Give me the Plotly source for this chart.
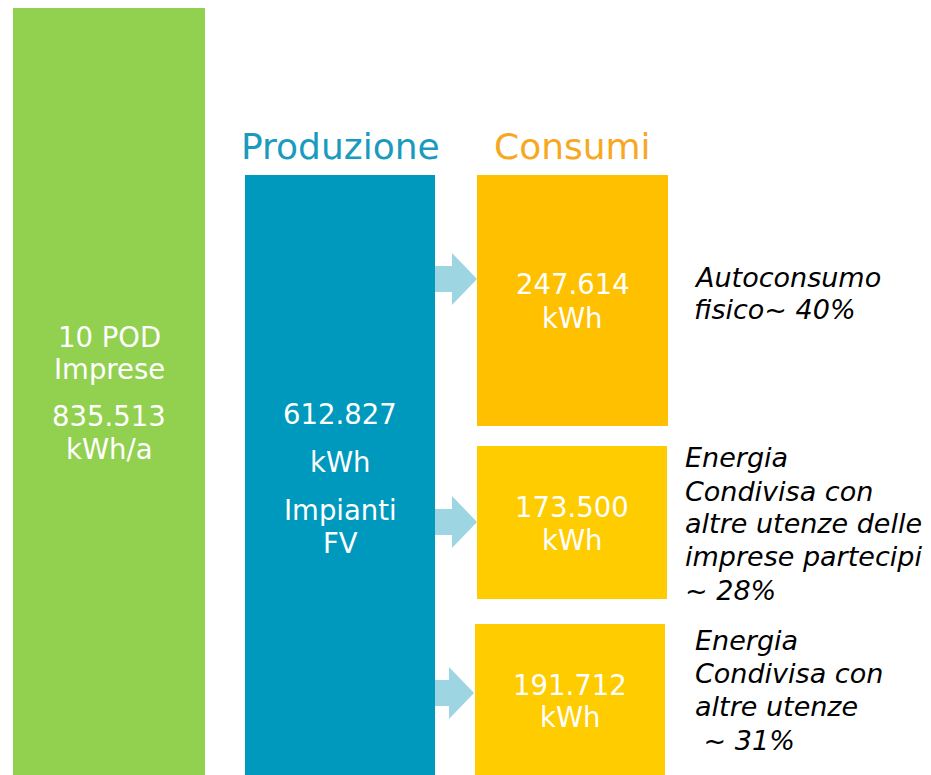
import plotly.graph_objects as go

# ---------------- data ----------------
pod_label = ["10 POD", "Imprese"]
pod_consumption = 835513          # kWh/a
production_value = 612827         # kWh
production_label = ["Impianti", "FV"]
headers = ["Produzione", "Consumi"]
consumption_values = [247614, 173500, 191712]   # kWh
consumption_notes = [
    ["Autoconsumo", "fisico~ 40%"],
    ["Energia", "Condivisa con", "altre utenze delle", "imprese partecipi", "~ 28%"],
    ["Energia", "Condivisa con", "altre utenze", " ~ 31%"],
]

def fmt(v):
    return f"{v:,}".replace(",", ".")

# ---------------- layout / styles ----------------
W, H = 931, 775
OFF = 8   # page body margin
FONT = "DejaVu Sans"
GREEN = "#92D050"
BLUE = "#0099BE"
ORANGE = ["#FFC000", "#FFCC00", "#FFCC00"]
ARROW = "#9DD5E3"
HDR_COLORS = ["#1A9BBE", "#F7A823"]
TXT = 27.5
NOTE = 27
HDR = 36

green_box = (13, 205, 7, 775)
blue_box = (245, 435, 175, 775)
orange_boxes = [(477, 668, 175, 426), (477, 667, 446, 599), (475, 665, 624, 775)]
arrow_tips = [(477, 279), (477, 522), (474, 693)]
green_lines_y = [337, 369, 416, 449]
blue_lines_y = [414, 462, 510, 543]
box_lines_y = [(284, 318), (507, 540), (685, 717)]
note_x = [692, 683, 693]
note_lines_y = [[277, 309], [457, 491, 523, 556, 590], [640, 673, 706, 740]]
header_y = 146

fig = go.Figure()
shapes = []
ann = []

def rect(box, color):
    x0, x1, y0, y1 = box
    shapes.append(dict(type="rect", xref="x", yref="y", x0=x0, x1=x1, y0=y0, y1=y1,
                       fillcolor=color, line=dict(width=0), layer="below"))

def text(x, y, s, color="white", size=TXT, italic=False, xanchor="center"):
    ann.append(dict(x=x, y=y, xref="x", yref="y", text=s, showarrow=False,
                    xanchor=xanchor, yanchor="middle", align="left",
                    font=dict(family=FONT, size=size, color=color,
                              style="italic" if italic else "normal")))

rect(green_box, GREEN)
rect(blue_box, BLUE)
for b, c in zip(orange_boxes, ORANGE):
    rect(b, c)

# arrows
for tx, ty in arrow_tips:
    x0 = blue_box[1]
    xb = tx - 25
    hb, hh = 13, 26
    path = (f"M {x0},{ty-hb} L {xb},{ty-hb} L {xb},{ty-hh} L {tx},{ty} "
            f"L {xb},{ty+hh} L {xb},{ty+hb} L {x0},{ty+hb} Z")
    shapes.append(dict(type="path", xref="x", yref="y", path=path,
                       fillcolor=ARROW, line=dict(width=0), layer="below"))

# green box text
gx = (green_box[0] + green_box[1]) / 2
for s, y in zip(pod_label + [fmt(pod_consumption), "kWh/a"], green_lines_y):
    text(gx, y, s)

# blue box text
bx = (blue_box[0] + blue_box[1]) / 2
for s, y in zip([fmt(production_value), "kWh"] + production_label, blue_lines_y):
    text(bx, y, s)

# headers
ox = (orange_boxes[0][0] + orange_boxes[0][1]) / 2
text(bx, header_y, headers[0], color=HDR_COLORS[0], size=HDR)
text(ox, header_y, headers[1], color=HDR_COLORS[1], size=HDR)

# consumption boxes
for b, v, ys in zip(orange_boxes, consumption_values, box_lines_y):
    cx = (b[0] + b[1]) / 2
    text(cx, ys[0], fmt(v))
    text(cx, ys[1], "kWh")

# notes
for nx, lines, ys in zip(note_x, consumption_notes, note_lines_y):
    for s, y in zip(lines, ys):
        text(nx, y, s, color="black", size=NOTE, italic=True, xanchor="left")

fig.update_layout(
    width=W - OFF, height=H - OFF, autosize=False,
    margin=dict(l=0, r=0, t=0, b=0),
    paper_bgcolor="white", plot_bgcolor="white",
    xaxis=dict(range=[OFF, W], visible=False, fixedrange=True),
    yaxis=dict(range=[H, OFF], visible=False, fixedrange=True),
    shapes=shapes, annotations=ann, showlegend=False,
)
fig.write_html("out.html", config={"displayModeBar": False})
